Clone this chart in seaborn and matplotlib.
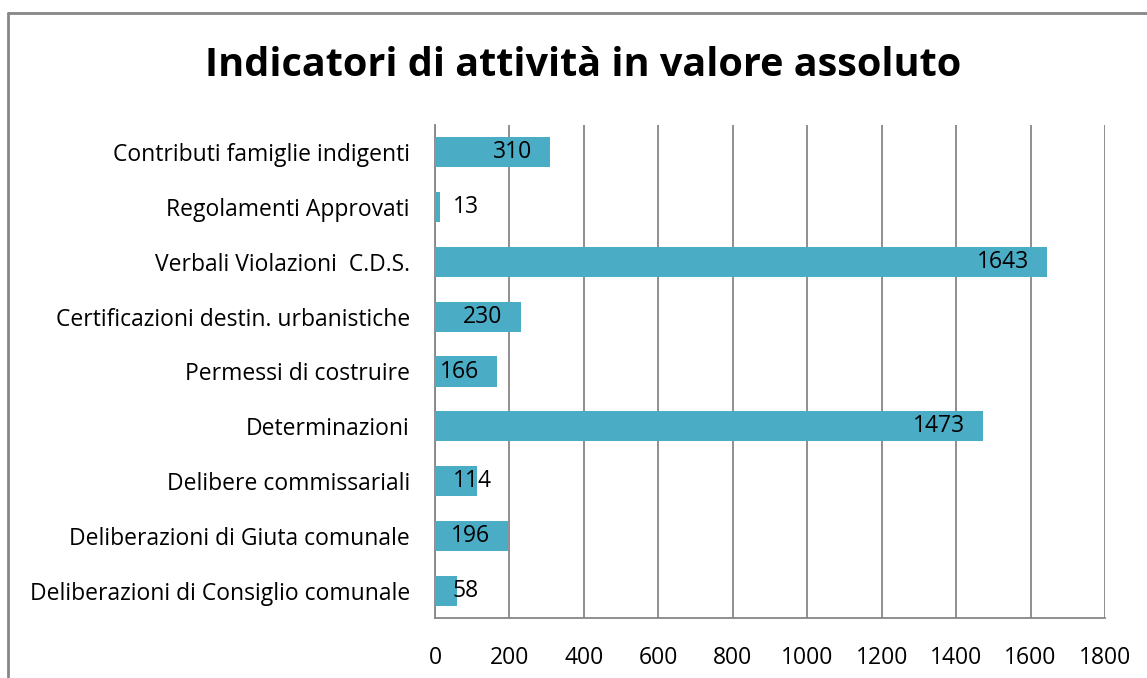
import matplotlib
matplotlib.use("Agg")
import matplotlib.pyplot as plt
import seaborn as sns
import pandas as pd
from matplotlib.lines import Line2D

categories = [
    "Contributi famiglie indigenti",
    "Regolamenti Approvati",
    "Verbali Violazioni  C.D.S.",
    "Certificazioni destin. urbanistiche",
    "Permessi di costruire",
    "Determinazioni",
    "Delibere commissariali",
    "Deliberazioni di Giuta comunale",
    "Deliberazioni di Consiglio comunale",
]
values = [310, 13, 1643, 230, 166, 1473, 114, 196, 58]
xticks = [0, 200, 400, 600, 800, 1000, 1200, 1400, 1600, 1800]

df = pd.DataFrame({"cat": categories, "val": values})

sns.set_style("white")
plt.rcParams["font.family"] = ["Open Sans", "DejaVu Sans"]
plt.rcParams["text.color"] = "black"
plt.rcParams["xtick.color"] = "black"
plt.rcParams["ytick.color"] = "black"

fig = plt.figure(figsize=(11.47, 6.78), dpi=100)
ax = fig.add_axes([435 / 1147, 1 - 618 / 678, 670 / 1147, 493 / 678])

sns.barplot(data=df, x="val", y="cat", color="#4bacc6", saturation=1,
            width=0.55, ax=ax, zorder=3, linewidth=0, edgecolor="none")

ax.set_xlim(0, 1800)
ax.set_xticks(xticks)
ax.set_xticklabels([str(t) for t in xticks], fontsize=16.5)
ax.tick_params(axis="y", labelsize=16.5, length=0, pad=18)
ax.tick_params(axis="x", length=0, pad=20)
ax.set_xlabel("")
ax.set_ylabel("")
ax.grid(axis="x", color="#868686", linewidth=1.3, zorder=0)
ax.grid(axis="y", visible=False)
for side in ["top", "right"]:
    ax.spines[side].set_visible(False)
for side in ["left", "bottom"]:
    ax.spines[side].set_color("#868686")
    ax.spines[side].set_linewidth(1.3)

# data labels: inside end for long bars, just past the axis for short ones
for i, v in enumerate(values):
    if v >= 150:
        ax.text(v - 48, i, str(v), ha="right", va="center", fontsize=16.5,
                color="black", zorder=4)
    else:
        ax.text(48, i, str(v), ha="left", va="center", fontsize=16.5,
                color="black", zorder=4)

fig.text(583 / 1147, 1 - 65 / 678, "Indicatori di attività in valore assoluto",
         ha="center", va="center", fontsize=28.5, fontweight="bold")

# outer chart frame
fig.add_artist(Line2D([8 / 1147, 8 / 1147], [0, 1 - 13 / 678],
                      transform=fig.transFigure, color="#868686", linewidth=2))
fig.add_artist(Line2D([8 / 1147, 1], [1 - 13 / 678, 1 - 13 / 678],
                      transform=fig.transFigure, color="#868686", linewidth=2))

fig.savefig("out.png", dpi=100)
